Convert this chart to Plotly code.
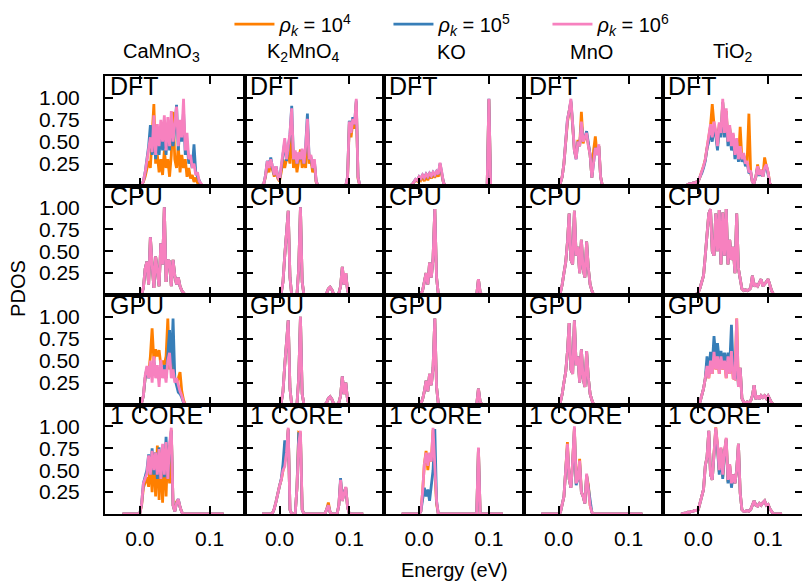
import numpy as np
import plotly.graph_objects as go
from plotly.subplots import make_subplots

# Common energy grid (eV) on which every PDOS curve is sampled
N_POINTS = 59
energy = np.round(-0.025 + 0.0025 * np.arange(N_POINTS), 4)

materials = ["CaMnO<sub>3</sub>", "K<sub>2</sub>MnO<sub>4</sub>", "KO", "MnO", "TiO<sub>2</sub>"]
methods = ["DFT", "CPU", "GPU", "1 CORE"]
density_labels = ["<i>ρ</i><sub><i>k</i></sub> = 10<sup>4</sup>",
                  "<i>ρ</i><sub><i>k</i></sub> = 10<sup>5</sup>",
                  "<i>ρ</i><sub><i>k</i></sub> = 10<sup>6</sup>"]
density_colors = ["#ff7f00", "#377eb8", "#f781bf"]

x_ticks = [0.0, 0.1]
x_ticktext = ["0.0", "0.1"]
y_ticks = [0.25, 0.5, 0.75, 1.0]
y_ticktext = ["0.25", "0.50", "0.75", "1.00"]

Z10 = [0.0] * 10
Z11 = [0.0] * 11

# ---------------- DFT ----------------
dft_camno3_1e4 = Z11 + [0.01, 0.04, 0.10, 0.20, 0.28, 0.20, 0.55, 0.93, 0.25, 0.35,
                        0.15, 0.30, 0.12, 0.40, 0.20, 0.30, 0.10, 0.35, 0.84, 0.30,
                        0.20, 0.45, 0.15, 0.35, 0.20, 0.30, 0.10, 0.20, 0.08, 0.12,
                        0.04, 0.09, 0.03, 0.02, 0.0]
dft_camno3_1e5 = Z11 + [0.01, 0.05, 0.15, 0.30, 0.45, 0.69, 0.35, 0.60, 0.30, 0.55,
                        0.35, 0.60, 0.40, 0.65, 0.35, 0.70, 0.40, 0.75, 0.45, 0.65,
                        0.92, 0.40, 0.70, 0.50, 0.85, 0.35, 0.50, 0.25, 0.30, 0.20,
                        0.47, 0.15, 0.10, 0.04, 0.01, 0.0]
dft_camno3_1e6 = Z11 + [0.01, 0.05, 0.15, 0.30, 0.42, 0.55, 0.38, 0.80, 0.35, 0.70,
                        0.45, 0.75, 0.50, 0.80, 0.40, 0.78, 0.45, 0.85, 0.50, 0.70,
                        0.90, 0.45, 0.75, 0.55, 0.99, 0.40, 0.60, 0.30, 0.35, 0.20,
                        0.25, 0.12, 0.15, 0.05, 0.02, 0.0]

dft_k2mno4_1e4 = [0.0, 0.02, 0.10, 0.25, 0.15, 0.28, 0.18, 0.10, 0.20, 0.08,
                  0.05, 0.15, 0.30, 0.20, 0.30, 0.35, 0.25, 0.70, 0.20, 0.35,
                  0.15, 0.30, 0.41, 0.20, 0.30, 0.20, 0.70, 0.25, 0.30, 0.15,
                  0.25, 0.04] + [0.0] * 17 + [0.08, 0.70, 0.55, 0.72, 0.65, 0.95, 0.08, 0.0]
dft_k2mno4_1e5 = [0.0, 0.02, 0.12, 0.28, 0.22, 0.32, 0.20, 0.12, 0.22, 0.10,
                  0.06, 0.20, 0.33, 0.50, 0.28, 0.42, 0.58, 0.91, 0.30, 0.38,
                  0.25, 0.36, 0.30, 0.40, 0.25, 0.45, 0.82, 0.30, 0.33, 0.20,
                  0.28, 0.05] + [0.0] * 17 + [0.10, 0.74, 0.62, 0.78, 0.70, 0.97, 0.10, 0.0]
dft_k2mno4_1e6 = [0.0, 0.02, 0.12, 0.28, 0.20, 0.30, 0.22, 0.12, 0.22, 0.10,
                  0.06, 0.20, 0.35, 0.54, 0.30, 0.45, 0.60, 0.88, 0.30, 0.40,
                  0.25, 0.38, 0.30, 0.42, 0.25, 0.45, 0.76, 0.30, 0.35, 0.20,
                  0.30, 0.05] + [0.0] * 17 + [0.10, 0.73, 0.60, 0.76, 0.70, 0.99, 0.10, 0.0]

dft_ko_1e4 = [0.0] * 6 + [0.01, 0.04, 0.06, 0.05, 0.09, 0.06, 0.10, 0.05, 0.11, 0.06,
                          0.12, 0.08, 0.13, 0.09, 0.14, 0.10, 0.22, 0.12, 0.03] + [0.0] * 25 + [0.98, 0.0]
dft_ko_1e5 = [0.0] * 6 + [0.01, 0.04, 0.07, 0.06, 0.10, 0.08, 0.12, 0.09, 0.13, 0.10,
                          0.14, 0.11, 0.15, 0.12, 0.16, 0.13, 0.25, 0.14, 0.03] + [0.0] * 25 + [0.99, 0.0]
dft_ko_1e6 = [0.0] * 6 + [0.01, 0.04, 0.07, 0.06, 0.10, 0.08, 0.12, 0.09, 0.13, 0.10,
                          0.14, 0.11, 0.15, 0.12, 0.16, 0.13, 0.26, 0.15, 0.03] + [0.0] * 25 + [0.99, 0.0]

dft_mno_1e4 = Z10 + [0.0, 0.03, 0.10, 0.25, 0.50, 0.72, 0.85, 0.95, 0.68, 0.40,
                     0.32, 0.52, 0.45, 0.84, 0.48, 0.55, 0.58, 0.45, 0.35, 0.09,
                     0.40, 0.56, 0.35, 0.45, 0.10, 0.0]
dft_mno_1e5 = Z10 + [0.0, 0.03, 0.10, 0.25, 0.50, 0.75, 0.85, 0.97, 0.70, 0.40,
                     0.30, 0.50, 0.45, 0.70, 0.52, 0.55, 0.62, 0.45, 0.35, 0.09,
                     0.30, 0.43, 0.35, 0.45, 0.10, 0.0]
dft_mno_1e6 = Z10 + [0.0, 0.03, 0.10, 0.25, 0.50, 0.75, 0.85, 0.99, 0.70, 0.40,
                     0.30, 0.50, 0.45, 0.73, 0.50, 0.55, 0.60, 0.45, 0.35, 0.09,
                     0.30, 0.43, 0.35, 0.47, 0.10, 0.0]

dft_tio2_1e4 = [0.0] * 4 + [0.01, 0.02, 0.02, 0.03, 0.03, 0.04,
                            0.05, 0.10, 0.15, 0.22, 0.30, 0.45, 0.55, 0.68, 0.93, 0.70,
                            0.60, 0.45, 0.70, 0.58, 0.95, 0.60, 0.85, 0.50, 0.66, 0.45,
                            0.58, 0.35, 0.52, 0.30, 0.67, 0.30, 0.35, 0.25, 0.28, 0.82,
                            0.15, 0.04, 0.03, 0.10, 0.24, 0.12, 0.18, 0.10, 0.32, 0.22,
                            0.15, 0.02, 0.0]
dft_tio2_1e5 = [0.0] * 4 + [0.01, 0.02, 0.02, 0.03, 0.03, 0.04,
                            0.05, 0.10, 0.14, 0.20, 0.28, 0.42, 0.50, 0.65, 0.50, 0.68,
                            0.57, 0.40, 0.66, 0.55, 0.95, 0.55, 0.82, 0.45, 0.64, 0.40,
                            0.55, 0.30, 0.50, 0.27, 0.42, 0.27, 0.34, 0.22, 0.26, 0.14,
                            0.16, 0.04, 0.03, 0.10, 0.21, 0.11, 0.17, 0.10, 0.19, 0.23,
                            0.14, 0.02, 0.0]
dft_tio2_1e6 = [0.0] * 4 + [0.01, 0.02, 0.02, 0.03, 0.03, 0.04,
                            0.05, 0.10, 0.15, 0.22, 0.30, 0.45, 0.55, 0.70, 0.55, 0.73,
                            0.62, 0.45, 0.72, 0.60, 0.99, 0.60, 0.88, 0.50, 0.69, 0.45,
                            0.60, 0.35, 0.54, 0.30, 0.45, 0.30, 0.37, 0.25, 0.28, 0.15,
                            0.17, 0.04, 0.03, 0.10, 0.22, 0.12, 0.18, 0.10, 0.20, 0.24,
                            0.15, 0.02, 0.0]

# ---------------- CPU (all k-point densities coincide) ----------------
cpu_camno3 = Z11 + [0.01, 0.08, 0.30, 0.38, 0.12, 0.66, 0.35, 0.08, 0.44, 0.30,
                    0.10, 0.59, 0.35, 1.00, 0.15, 0.40, 0.38, 0.10, 0.40, 0.22,
                    0.12, 0.20, 0.10, 0.05, 0.02, 0.0]
cpu_k2mno4 = Z11 + [0.02, 0.15, 0.45, 0.70, 0.96, 0.20, 0.0, 0.0, 0.0, 0.0,
                    0.30, 1.00, 0.15] + [0.0] * 13 + [0.02, 0.07, 0.09, 0.06, 0.01, 0.0, 0.0,
                                                      0.02, 0.10, 0.32, 0.12, 0.25, 0.05, 0.0]
cpu_ko = Z11 + [0.01, 0.05, 0.15, 0.25, 0.12, 0.37, 0.20, 0.42, 0.98, 0.20, 0.01] + [0.0] * 22 + [0.18, 0.03, 0.0]
cpu_mno = Z11 + [0.03, 0.12, 0.25, 0.37, 0.60, 0.93, 0.40, 0.35, 0.96, 0.45,
                 0.55, 0.25, 0.63, 0.30, 0.20, 0.61, 0.30, 0.12, 0.05, 0.0]
cpu_tio2 = [0.0] * 9 + [0.01, 0.03, 0.08, 0.15, 0.22, 0.45, 0.74, 0.93, 0.98, 0.50,
                        0.45, 0.93, 0.50, 0.97, 0.35, 0.94, 0.45, 0.98, 0.35, 0.63,
                        0.40, 0.55, 0.25, 0.93, 0.30, 0.18, 0.07, 0.05, 0.06, 0.05,
                        0.06, 0.08, 0.22, 0.10, 0.12, 0.10, 0.15, 0.18, 0.10, 0.12,
                        0.15, 0.18, 0.10, 0.05, 0.01, 0.0]

# ---------------- GPU ----------------
gpu_camno3_1e4 = Z11 + [0.02, 0.10, 0.30, 0.40, 0.35, 0.55, 0.87, 0.50, 0.63, 0.55,
                        0.62, 0.45, 0.50, 0.45, 0.55, 0.98, 0.40, 0.50, 0.35, 0.30,
                        0.25, 0.30, 0.37, 0.15, 0.05, 0.0]
gpu_camno3_1e5 = Z11 + [0.02, 0.10, 0.30, 0.42, 0.30, 0.45, 0.35, 0.50, 0.35, 0.40,
                        0.30, 0.45, 0.35, 0.45, 0.30, 0.55, 0.85, 0.40, 0.98, 0.30,
                        0.20, 0.14, 0.12, 0.08, 0.02, 0.0]
gpu_camno3_1e6 = Z11 + [0.02, 0.10, 0.33, 0.44, 0.30, 0.50, 0.25, 0.55, 0.30, 0.45,
                        0.20, 0.51, 0.30, 0.40, 0.25, 0.50, 0.59, 0.30, 0.40, 0.25,
                        0.30, 0.22, 0.15, 0.10, 0.03, 0.0]
gpu_k2mno4 = Z11 + [0.02, 0.15, 0.45, 0.72, 0.96, 0.18, 0.0, 0.0, 0.0, 0.0,
                    0.30, 1.00, 0.12] + [0.0] * 13 + [0.02, 0.07, 0.09, 0.06, 0.01, 0.0, 0.0,
                                                      0.02, 0.10, 0.32, 0.12, 0.25, 0.05, 0.0]
gpu_ko = Z11 + [0.01, 0.06, 0.15, 0.27, 0.15, 0.35, 0.22, 0.42, 0.98, 0.20, 0.01] + [0.0] * 22 + [0.18, 0.03, 0.0]
gpu_mno = Z11 + [0.03, 0.12, 0.25, 0.37, 0.60, 0.93, 0.40, 0.35, 0.96, 0.45,
                 0.55, 0.25, 0.63, 0.30, 0.20, 0.61, 0.30, 0.12, 0.05, 0.0]
gpu_tio2_1e5 = Z11 + [0.03, 0.10, 0.18, 0.30, 0.55, 0.35, 0.60, 0.45, 0.78, 0.55,
                      0.70, 0.50, 0.61, 0.50, 0.59, 0.45, 0.59, 0.45, 0.91, 0.40,
                      0.29, 0.60, 0.20, 0.42, 0.07, 0.03, 0.02, 0.03, 0.02, 0.04,
                      0.10, 0.22, 0.06, 0.10, 0.06, 0.10, 0.08, 0.10, 0.07, 0.10,
                      0.06, 0.02, 0.0]
gpu_tio2_1e6 = Z11 + [0.03, 0.10, 0.18, 0.30, 0.44, 0.30, 0.50, 0.35, 0.60, 0.40,
                      0.55, 0.35, 0.55, 0.40, 0.50, 0.30, 0.55, 0.35, 0.61, 0.30,
                      0.29, 0.98, 0.20, 0.42, 0.07, 0.03, 0.02, 0.03, 0.02, 0.04,
                      0.10, 0.22, 0.06, 0.10, 0.06, 0.10, 0.08, 0.10, 0.07, 0.10,
                      0.06, 0.02, 0.0]

# ---------------- 1 CORE ----------------
core_camno3_1e4 = Z10 + [0.01, 0.10, 0.30, 0.35, 0.42, 0.31, 0.60, 0.25, 0.70, 0.20,
                         0.78, 0.16, 0.70, 0.13, 0.75, 0.20, 0.78, 0.35, 0.96, 0.10,
                         0.03, 0.14, 0.16, 0.08, 0.02, 0.0]
core_camno3_1e5 = Z10 + [0.01, 0.12, 0.35, 0.42, 0.50, 0.68, 0.45, 0.75, 0.45, 0.70,
                         0.40, 0.76, 0.40, 0.78, 0.42, 0.88, 0.40, 0.75, 0.95, 0.10,
                         0.03, 0.12, 0.17, 0.08, 0.02, 0.0]
core_camno3_1e6 = Z10 + [0.01, 0.12, 0.35, 0.40, 0.46, 0.67, 0.45, 0.72, 0.50, 0.70,
                         0.45, 0.74, 0.40, 0.80, 0.45, 0.82, 0.40, 0.80, 0.985, 0.10,
                         0.03, 0.12, 0.17, 0.08, 0.02, 0.0]

core_k2mno4_1e4 = [0.0] * 6 + [0.01, 0.06, 0.14, 0.25, 0.32, 0.39, 0.52, 0.60, 0.70, 0.97,
                               0.05, 0.0, 0.0, 0.0, 0.30, 0.93, 0.92, 0.05] + [0.0] * 13 + \
                  [0.05, 0.13, 0.02, 0.0, 0.0, 0.0, 0.0, 0.10, 0.38, 0.15, 0.25, 0.30, 0.08, 0.0]
core_k2mno4_1e5 = [0.0] * 6 + [0.01, 0.06, 0.14, 0.25, 0.32, 0.40, 0.57, 0.84, 0.70, 0.96,
                               0.05, 0.0, 0.0, 0.0, 0.30, 0.91, 0.90, 0.05] + [0.0] * 13 + \
                  [0.05, 0.10, 0.02, 0.0, 0.0, 0.0, 0.0, 0.10, 0.41, 0.15, 0.25, 0.30, 0.08, 0.0]
core_k2mno4_1e6 = [0.0] * 6 + [0.01, 0.06, 0.14, 0.25, 0.32, 0.39, 0.50, 0.54, 0.70, 0.985,
                               0.05, 0.0, 0.0, 0.0, 0.30, 0.80, 0.95, 0.05] + [0.0] * 13 + \
                  [0.05, 0.10, 0.02, 0.0, 0.0, 0.0, 0.0, 0.10, 0.39, 0.15, 0.25, 0.31, 0.08, 0.0]

core_ko_1e4 = Z11 + [0.03, 0.25, 0.57, 0.72, 0.50, 0.68, 0.60, 0.96, 0.50, 0.12, 0.0] + [0.0] * 22 + [0.75, 0.0]
core_ko_1e5 = Z11 + [0.03, 0.15, 0.30, 0.20, 0.28, 0.15, 0.30, 0.50, 0.97, 0.15, 0.0] + [0.0] * 22 + [0.74, 0.0]
core_ko_1e6 = Z11 + [0.03, 0.25, 0.57, 0.70, 0.55, 0.70, 0.60, 0.985, 0.55, 0.15, 0.0] + [0.0] * 22 + [0.76, 0.0]

core_mno_1e4 = Z10 + [0.0, 0.02, 0.10, 0.20, 0.50, 0.82, 0.40, 0.30, 0.60, 0.98,
                      0.35, 0.40, 0.63, 0.25, 0.20, 0.12, 0.44, 0.33, 0.10, 0.02, 0.0]
core_mno_1e5 = Z10 + [0.0, 0.02, 0.10, 0.20, 0.50, 0.76, 0.40, 0.30, 0.58, 0.97,
                      0.33, 0.40, 0.58, 0.25, 0.20, 0.12, 0.44, 0.30, 0.10, 0.02, 0.0]
core_mno_1e6 = Z10 + [0.0, 0.02, 0.10, 0.20, 0.50, 0.80, 0.40, 0.30, 0.60, 1.00,
                      0.35, 0.40, 0.61, 0.25, 0.20, 0.12, 0.46, 0.31, 0.10, 0.02, 0.0]

core_tio2_1e4 = [0.0, 0.0, 0.01, 0.01, 0.02, 0.02, 0.03, 0.03, 0.04, 0.04,
                 0.05, 0.12, 0.20, 0.28, 0.55, 0.65, 0.95, 0.45, 0.39, 0.70,
                 0.99, 0.78, 0.48, 0.75, 0.42, 0.70, 0.86, 0.37, 0.56, 0.33,
                 0.45, 0.35, 0.50, 0.80, 0.24, 0.05, 0.03, 0.03, 0.04, 0.03,
                 0.05, 0.10, 0.15, 0.10, 0.09, 0.12, 0.10, 0.13, 0.15, 0.10,
                 0.11, 0.06, 0.03, 0.0]
core_tio2_1e5 = [0.0, 0.0, 0.01, 0.01, 0.02, 0.02, 0.03, 0.03, 0.04, 0.04,
                 0.05, 0.12, 0.20, 0.28, 0.55, 0.65, 0.95, 0.45, 0.39, 0.70,
                 0.96, 0.75, 0.45, 0.74, 0.40, 0.70, 0.85, 0.35, 0.55, 0.30,
                 0.45, 0.35, 0.50, 0.80, 0.24, 0.05, 0.03, 0.03, 0.04, 0.03,
                 0.05, 0.10, 0.15, 0.10, 0.09, 0.12, 0.10, 0.13, 0.15, 0.10,
                 0.11, 0.06, 0.03, 0.0]
core_tio2_1e6 = [0.0, 0.0, 0.01, 0.01, 0.02, 0.02, 0.03, 0.03, 0.04, 0.04,
                 0.05, 0.12, 0.20, 0.28, 0.55, 0.65, 0.95, 0.45, 0.39, 0.70,
                 0.985, 0.80, 0.50, 0.76, 0.45, 0.72, 0.87, 0.39, 0.57, 0.35,
                 0.45, 0.35, 0.50, 0.80, 0.24, 0.05, 0.03, 0.03, 0.04, 0.03,
                 0.05, 0.10, 0.15, 0.10, 0.09, 0.12, 0.10, 0.13, 0.15, 0.10,
                 0.11, 0.06, 0.03, 0.0]

# (method, material index) -> curves for rho_k = 1e4, 1e5, 1e6
pdos = {
    ("DFT", 0): (dft_camno3_1e4, dft_camno3_1e5, dft_camno3_1e6),
    ("DFT", 1): (dft_k2mno4_1e4, dft_k2mno4_1e5, dft_k2mno4_1e6),
    ("DFT", 2): (dft_ko_1e4, dft_ko_1e5, dft_ko_1e6),
    ("DFT", 3): (dft_mno_1e4, dft_mno_1e5, dft_mno_1e6),
    ("DFT", 4): (dft_tio2_1e4, dft_tio2_1e5, dft_tio2_1e6),
    ("CPU", 0): (cpu_camno3, cpu_camno3, cpu_camno3),
    ("CPU", 1): (cpu_k2mno4, cpu_k2mno4, cpu_k2mno4),
    ("CPU", 2): (cpu_ko, cpu_ko, cpu_ko),
    ("CPU", 3): (cpu_mno, cpu_mno, cpu_mno),
    ("CPU", 4): (cpu_tio2, cpu_tio2, cpu_tio2),
    ("GPU", 0): (gpu_camno3_1e4, gpu_camno3_1e5, gpu_camno3_1e6),
    ("GPU", 1): (gpu_k2mno4, gpu_k2mno4, gpu_k2mno4),
    ("GPU", 2): (gpu_ko, gpu_ko, gpu_ko),
    ("GPU", 3): (gpu_mno, gpu_mno, gpu_mno),
    ("GPU", 4): (gpu_tio2_1e6, gpu_tio2_1e5, gpu_tio2_1e6),
    ("1 CORE", 0): (core_camno3_1e4, core_camno3_1e5, core_camno3_1e6),
    ("1 CORE", 1): (core_k2mno4_1e4, core_k2mno4_1e5, core_k2mno4_1e6),
    ("1 CORE", 2): (core_ko_1e4, core_ko_1e5, core_ko_1e6),
    ("1 CORE", 3): (core_mno_1e4, core_mno_1e5, core_mno_1e6),
    ("1 CORE", 4): (core_tio2_1e4, core_tio2_1e5, core_tio2_1e6),
}

# horizontal centres of the material headers (paper fraction of the grid width)
title_x = [0.081, 0.284, 0.496, 0.697, 0.899]


def padded(values):
    return list(values) + [0.0] * (N_POINTS - len(values))


FONT = "Liberation Sans, Arial, Helvetica, sans-serif"
N_ROWS, N_COLS = len(methods), len(materials)

fig = make_subplots(rows=N_ROWS, cols=N_COLS, horizontal_spacing=0, vertical_spacing=0)

for r, method in enumerate(methods):
    for c in range(N_COLS):
        curves = pdos[(method, c)]
        for i, values in enumerate(curves):
            fig.add_trace(
                go.Scatter(
                    x=energy, y=padded(values), mode="lines",
                    line=dict(color=density_colors[i], width=2.8),
                    name=density_labels[i], legendgroup=str(i),
                    showlegend=(r == 0 and c == 0),
                ),
                row=r + 1, col=c + 1,
            )

fig.update_xaxes(
    range=[-0.05, 0.15], tickvals=x_ticks, ticktext=x_ticktext,
    ticks="inside", ticklen=8, tickwidth=1.6, tickcolor="black",
    showline=True, linewidth=2, linecolor="black", mirror="ticks",
    showgrid=False, zeroline=False, showticklabels=False,
    tickfont=dict(family=FONT, size=21, color="black"), ticklabelstandoff=5,
)
fig.update_yaxes(
    range=[0, 1.25], tickvals=y_ticks, ticktext=y_ticktext,
    ticks="inside", ticklen=8, tickwidth=1.6, tickcolor="black",
    showline=True, linewidth=2, linecolor="black", mirror="ticks",
    showgrid=False, zeroline=False, showticklabels=False,
    tickfont=dict(family=FONT, size=21, color="black"), ticklabelstandoff=19,
)
for c in range(1, N_COLS + 1):
    fig.update_xaxes(showticklabels=True, row=N_ROWS, col=c)
for r in range(1, N_ROWS + 1):
    fig.update_yaxes(showticklabels=True, row=r, col=1)

annotations = []
# method label in the upper-left corner of every panel
for r, method in enumerate(methods):
    for c in range(N_COLS):
        annotations.append(dict(
            text=method, xref="paper", yref="paper",
            x=c / N_COLS, y=1 - r / N_ROWS,
            xanchor="left", yanchor="top", xshift=3, yshift=6,
            showarrow=False, font=dict(family=FONT, size=25, color="black"),
        ))
for c, name in enumerate(materials):
    annotations.append(dict(
        text=name, xref="paper", yref="paper", x=title_x[c], y=1.054,
        xanchor="center", yanchor="middle", showarrow=False,
        font=dict(family=FONT, size=20, color="black"),
    ))
annotations.append(dict(
    text="PDOS", xref="paper", yref="paper", x=-0.124, y=0.515, textangle=-90,
    xanchor="center", yanchor="middle", showarrow=False,
    font=dict(family=FONT, size=20, color="black"),
))
annotations.append(dict(
    text="Energy (eV)", xref="paper", yref="paper", x=0.5, y=-0.128,
    xanchor="center", yanchor="middle", showarrow=False,
    font=dict(family=FONT, size=20, color="black"),
))

fig.update_layout(
    width=810, height=584,
    margin=dict(l=105, r=5, t=70, b=70),
    paper_bgcolor="white", plot_bgcolor="white",
    font=dict(family=FONT, color="black"),
    annotations=annotations,
    legend=dict(
        orientation="h", x=0.52, xanchor="center", y=1.163, yanchor="top",
        font=dict(family=FONT, size=20, color="black"),
        bgcolor="rgba(0,0,0,0)", itemwidth=40,
        entrywidth=104, entrywidthmode="pixels",
    ),
)

fig.write_html("out.html", post_script="document.body.style.overflow='hidden';")
